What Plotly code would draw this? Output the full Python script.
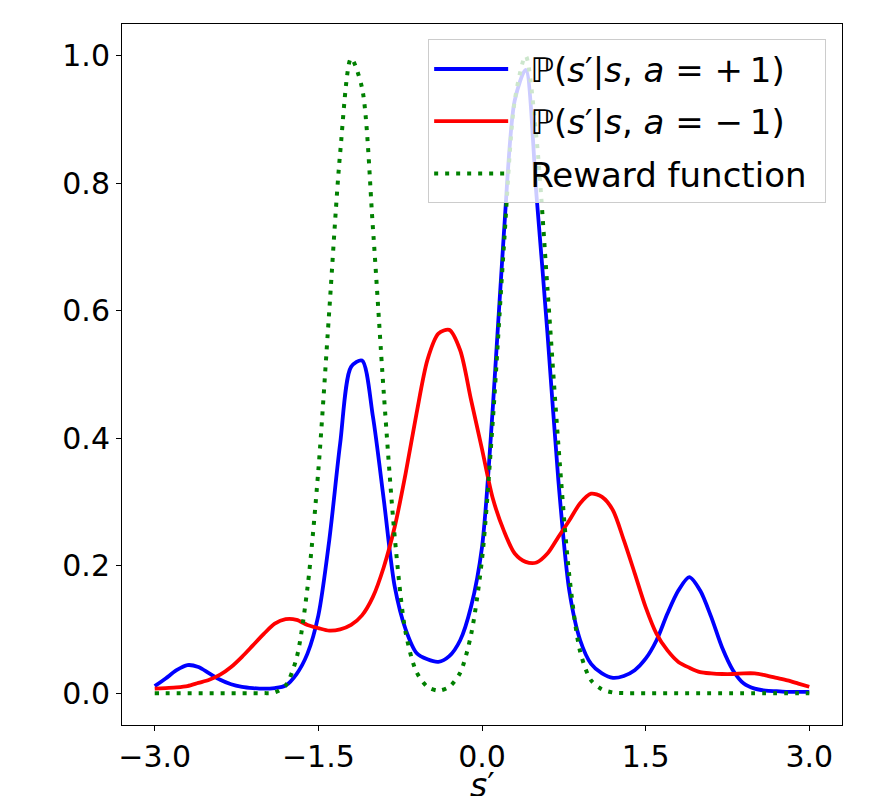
import plotly.graph_objects as go

# x grid (s')
s_prime = [round(-3.0 + 0.1 * i, 1) for i in range(61)]

# P(s'|s, a=+1)
p_plus = [0.011, 0.023, 0.036, 0.044, 0.041, 0.031, 0.021, 0.014, 0.010, 0.008,
          0.007, 0.008, 0.012, 0.030, 0.062, 0.122, 0.240, 0.392, 0.512, 0.522,
          0.434, 0.303, 0.167, 0.100, 0.063, 0.053, 0.049, 0.058, 0.083, 0.136,
          0.229, 0.450, 0.720, 0.930, 0.978, 0.780, 0.565, 0.334, 0.161, 0.083,
          0.046, 0.031, 0.024, 0.027, 0.036, 0.054, 0.083, 0.125, 0.161, 0.182,
          0.161, 0.120, 0.072, 0.036, 0.015, 0.007, 0.004, 0.003, 0.002, 0.002,
          0.002]

# P(s'|s, a=-1)
p_minus = [0.007, 0.008, 0.009, 0.011, 0.016, 0.021, 0.029, 0.041, 0.057, 0.075,
           0.093, 0.109, 0.116, 0.115, 0.107, 0.102, 0.098, 0.100, 0.107, 0.122,
           0.151, 0.198, 0.261, 0.345, 0.439, 0.523, 0.564, 0.570, 0.538, 0.460,
           0.383, 0.305, 0.255, 0.219, 0.206, 0.205, 0.219, 0.245, 0.271, 0.298,
           0.313, 0.308, 0.287, 0.240, 0.188, 0.135, 0.093, 0.067, 0.049, 0.040,
           0.033, 0.031, 0.030, 0.030, 0.031, 0.031, 0.028, 0.024, 0.020, 0.015,
           0.010]

# Reward function
reward = [0.0, 0.0, 0.0, 0.0, 0.0, 0.0, 0.0, 0.0, 0.0, 0.0,
          0.0, 0.001, 0.012, 0.055, 0.165, 0.350, 0.600, 0.848, 0.996, 0.950,
          0.730, 0.470, 0.245, 0.095, 0.033, 0.010, 0.004, 0.010, 0.032, 0.092,
          0.210, 0.430, 0.700, 0.930, 1.000, 0.870, 0.635, 0.390, 0.185, 0.065,
          0.020, 0.006, 0.001, 0.0, 0.0, 0.0, 0.0, 0.0, 0.0, 0.0,
          0.0, 0.0, 0.0, 0.0, 0.0, 0.0, 0.0, 0.0, 0.0, 0.0,
          0.0]

x_ticks = [-3.0, -1.5, 0.0, 1.5, 3.0]
y_ticks = [0.0, 0.2, 0.4, 0.6, 0.8, 1.0]

GAP = "\u2002"
names = [GAP + "ℙ(<i>s</i>′|<i>s</i>, <i>a</i> = +\u20091)",
         GAP + "ℙ(<i>s</i>′|<i>s</i>, <i>a</i> = −\u20091)",
         GAP + "Reward function\u2009\u2009"]
x_title = "<i>s</i>′"

FONT = "DejaVu Sans"

fig = go.Figure()
fig.add_trace(go.Scatter(x=s_prime, y=p_plus, mode="lines", name=names[0], legendgroup="a",
                         line=dict(color="#0000ff", width=3.8, shape="spline", smoothing=0.8)))
fig.add_trace(go.Scatter(x=s_prime, y=p_minus, mode="lines", name=names[1], legendgroup="b",
                         line=dict(color="#ff0000", width=3.8, shape="spline", smoothing=0.8)))
fig.add_trace(go.Scatter(x=s_prime, y=reward, mode="lines", name=names[2], legendgroup="c",
                         line=dict(color="#008000", width=4, dash="4px,7px",
                                   shape="spline", smoothing=0.8)))

# page has an 8px body margin: figure is 880x788 so that the page region is 888x796
fig.update_layout(
    width=880, height=788,
    margin=dict(l=114, r=46, t=16, b=71, autoexpand=False),
    paper_bgcolor="white", plot_bgcolor="white",
    font=dict(family=FONT, size=30, color="black"),
    showlegend=True,
    legend=dict(
        x=0.978, y=0.978, xanchor="right", yanchor="top",
        bgcolor="rgba(255,255,255,0.8)", bordercolor="#cccccc", borderwidth=1,
        font=dict(family=FONT, size=34, color="black"),
        itemwidth=74, traceorder="grouped", tracegroupgap=5,
    ),
    annotations=[dict(
        text=x_title, xref="paper", yref="paper", x=0.5, y=-0.0556,
        xanchor="center", yanchor="top", showarrow=False,
        font=dict(family=FONT, size=33, color="black"),
    )],
)

fig.update_xaxes(
    range=[-3.3, 3.3], tickvals=x_ticks, tickformat=".1f",
    showline=True, linecolor="black", linewidth=1, mirror=True,
    ticks="outside", ticklen=5, tickwidth=1, tickcolor="black",
    showgrid=False, zeroline=False,
    tickfont=dict(family=FONT, size=30),
    automargin=False,
)
fig.update_yaxes(
    range=[-0.05, 1.05], tickvals=y_ticks, tickformat=".1f",
    showline=True, linecolor="black", linewidth=1, mirror=True,
    ticks="outside", ticklen=5, tickwidth=1, tickcolor="black",
    showgrid=False, zeroline=False,
    tickfont=dict(family=FONT, size=30),
    automargin=False,
)

fig.write_html("out.html")
